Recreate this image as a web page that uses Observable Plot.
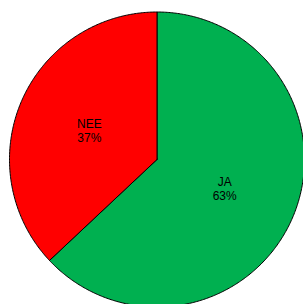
<!DOCTYPE html>
<html>
<head>
<meta charset="utf-8">
<script src="https://cdn.jsdelivr.net/npm/d3@7"></script>
<script src="https://cdn.jsdelivr.net/npm/@observablehq/plot@0.6"></script>
<style>
  html, body { margin: 0; padding: 0; background: #fff; }
  svg { display: block; }
</style>
</head>
<body>
<div id="chart"></div>
<script>
const categories = ["JA", "NEE"];
const values = [63, 37];
const colors = ["#00B050", "#FF0000"];

const total = d3.sum(values);
let cum = 0;
const slices = categories.map((c, i) => {
  const a0 = cum / total * 2 * Math.PI;
  cum += values[i];
  const a1 = cum / total * 2 * Math.PI;
  return {name: c, value: values[i], a0, a1, color: colors[i]};
});

// polygon outline points for each slice (angles clockwise from top)
const pts = [];
for (const s of slices) {
  pts.push({name: s.name, x: 0, y: 0});
  const n = Math.max(2, Math.ceil((s.a1 - s.a0) / 0.01));
  for (let k = 0; k <= n; k++) {
    const a = s.a0 + (s.a1 - s.a0) * k / n;
    pts.push({name: s.name, x: Math.sin(a), y: Math.cos(a)});
  }
  pts.push({name: s.name, x: 0, y: 0});
}

const labels = slices.map(s => {
  const m = (s.a0 + s.a1) / 2;
  return {x: 0.5 * Math.sin(m), y: 0.5 * Math.cos(m), text: `${s.name}\n${Math.round(s.value / total * 100)}%`};
});

const chart = Plot.plot({
  width: 303,
  height: 304,
  margin: 0,
  style: {background: "#fff", fontFamily: "'Liberation Sans', Arial, sans-serif"},
  x: {domain: [-1, 1], range: [9, 304], axis: null},
  y: {domain: [-1, 1], range: [306.5, 11.5], axis: null},
  color: {domain: categories, range: colors},
  marks: [
    Plot.line(pts, {x: "x", y: "y", z: "name", fill: "name", stroke: "#000", strokeWidth: 1, curve: "linear"}),
    Plot.text(labels, {x: "x", y: "y", text: "text", fontSize: 12, lineHeight: 1.17, fill: "#000"})
  ]
});
document.getElementById("chart").appendChild(chart);
</script>
</body>
</html>
